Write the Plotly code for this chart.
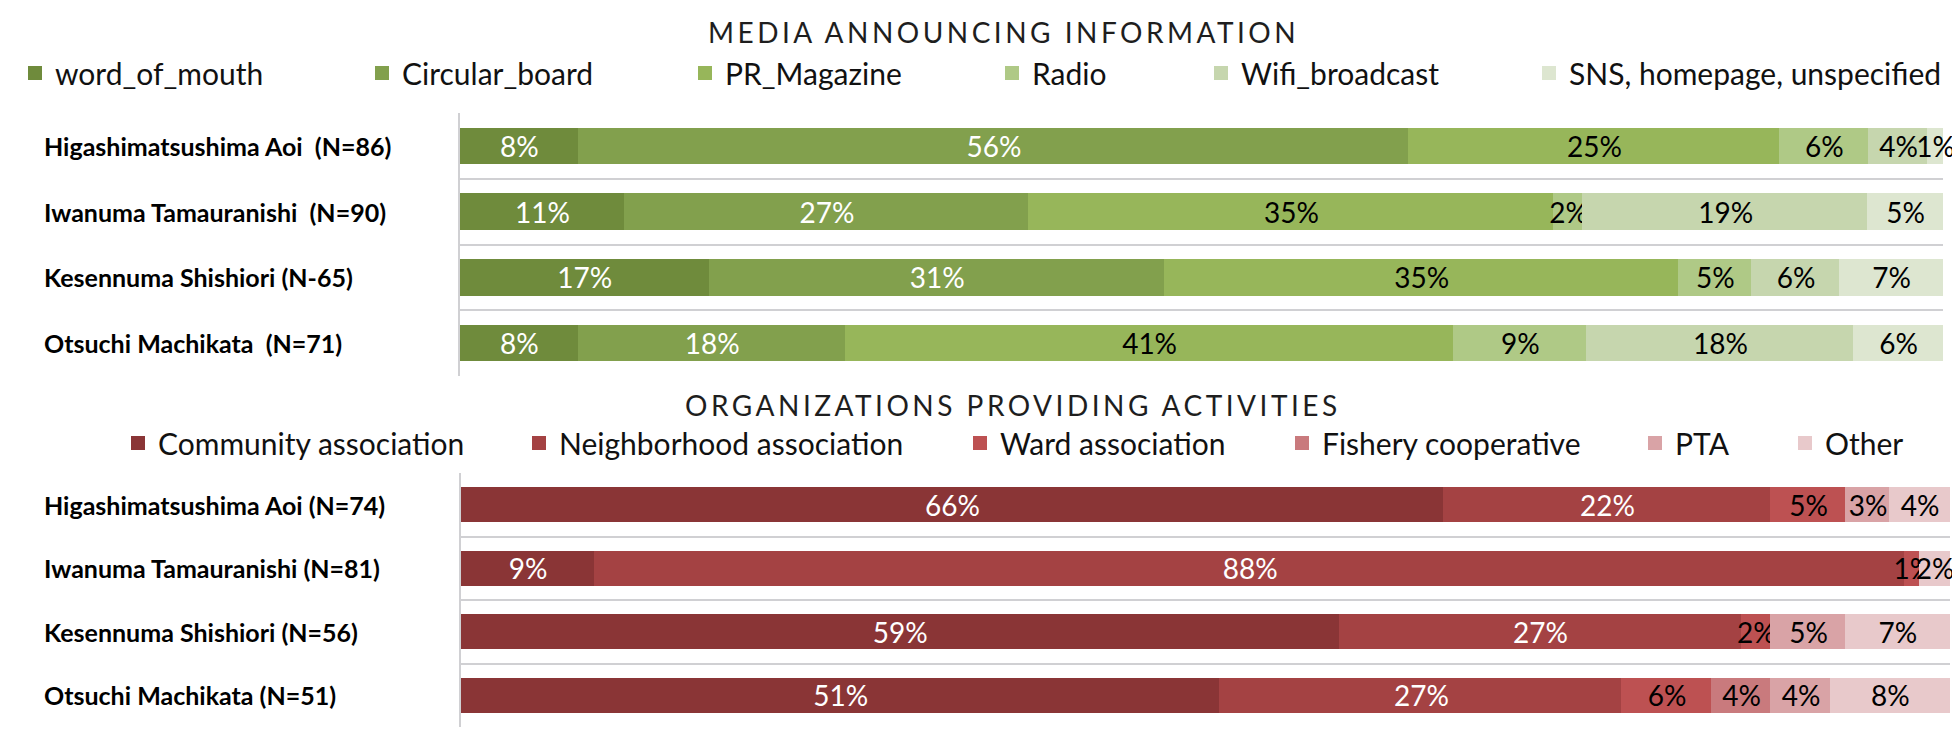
import plotly.graph_objects as go

W, H = 1960, 744

# ---------------- data ----------------
sites_media = ["Higashimatsushima Aoi\u00a0 (N=86)", "Iwanuma Tamauranishi\u00a0 (N=90)",
               "Kesennuma Shishiori (N-65)", "Otsuchi Machikata\u00a0 (N=71)"]
media_names = ["word_of_mouth", "Circular_board", "PR_Magazine", "Radio",
               "Wifi_broadcast", "SNS, homepage, unspecified"]
word_of_mouth = [8, 11, 17, 8]
circular_board = [56, 27, 31, 18]
pr_magazine = [25, 35, 35, 41]
radio = [6, 2, 5, 9]
wifi_broadcast = [4, 19, 6, 18]
sns_homepage = [1, 5, 7, 6]
media_values = [word_of_mouth, circular_board, pr_magazine, radio, wifi_broadcast, sns_homepage]

sites_org = ["Higashimatsushima Aoi (N=74)", "Iwanuma Tamauranishi (N=81)",
             "Kesennuma Shishiori (N=56)", "Otsuchi Machikata (N=51)"]
org_names = ["Community association", "Neighborhood association", "Ward association",
             "Fishery cooperative", "PTA", "Other"]
community = [66, 9, 59, 51]
neighborhood = [22, 88, 27, 27]
ward = [5, 1, 2, 6]
fishery = [0, 0, 0, 4]
pta = [3, 0, 5, 4]
other = [4, 2, 7, 8]
org_values = [community, neighborhood, ward, fishery, pta, other]

# ---------------- style ----------------
FONT = "Lato"
green = ["#6F8B3C", "#82A04D", "#97B65A", "#AFC986", "#C6D6AE", "#DDE6D0"]
red = ["#8A3536", "#A44243", "#BD5152", "#C97A7D", "#D9A3A6", "#E8C9CB"]
label_colors = ["white", "white", "black", "black", "black", "black"]

# legend text start pixels (x) for each entry
media_leg_x = [47, 394, 717, 1024, 1233, 1561]
org_leg_x = [150, 551, 992, 1314, 1667, 1817]
media_leg_y = 65
org_leg_y = 435

fig = go.Figure()
legend_layouts = {}
k = 0


def add_group(names, values, cats, colors, xa, ya, leg_x, leg_y):
    global k
    for i, (nm, vals) in enumerate(zip(names, values)):
        k += 1
        lname = "legend" if k == 1 else f"legend{k}"
        fig.add_trace(go.Bar(
            y=cats, x=vals, orientation="h", name=nm,
            marker=dict(color=colors[i], line=dict(width=2, color=colors[i])),
            text=[f"{v}%" if v else "" for v in vals],
            textposition="inside", insidetextanchor="middle", textangle=0,
            constraintext="none", cliponaxis=False,
            textfont=dict(family=FONT, size=28, color=label_colors[i]),
            xaxis=xa, yaxis=ya, legend=lname, hoverinfo="skip",
        ))
        legend_layouts[lname] = dict(
            orientation="h", x=(leg_x[i] - 40) / W, y=1 - leg_y / H,
            xanchor="left", yanchor="middle", bgcolor="rgba(0,0,0,0)",
            borderwidth=0, font=dict(family=FONT, size=30, color="#111111"),
        )


add_group(media_names, media_values, sites_media, green, "x", "y", media_leg_x, media_leg_y)
add_group(org_names, org_values, sites_org, red, "x2", "y2", org_leg_x, org_leg_y)

grid = "#D0D0D3"
yax_common = dict(type="category", autorange="reversed", tickson="boundaries",
                  showgrid=True, gridcolor=grid, gridwidth=2, showticklabels=False,
                  ticks="", showline=True, linecolor=grid, linewidth=2, zeroline=False,
                  fixedrange=True)
xax_common = dict(range=[0, 100.001], visible=False, fixedrange=True)

title_style = dict(family=FONT, size=28, color="#1E1E1E")
annotations = [
    dict(text='<span style="letter-spacing:3.5px">MEDIA ANNOUNCING INFORMATION</span>',
         x=995 / W, y=1 - 24 / H, xref="paper", yref="paper", showarrow=False,
         xanchor="center", yanchor="middle", font=title_style),
    dict(text='<span style="letter-spacing:3.5px">ORGANIZATIONS PROVIDING ACTIVITIES</span>',
         x=1005 / W, y=1 - 397 / H, xref="paper", yref="paper", showarrow=False,
         xanchor="center", yanchor="middle", font=title_style),
]
label_font = dict(family=FONT, size=25, color="black")
for s in sites_media:
    annotations.append(dict(text=f"<b>{s}</b>", x=34 / W, xref="paper", y=s, yref="y",
                            xanchor="left", yanchor="middle", showarrow=False, font=label_font))
for s in sites_org:
    annotations.append(dict(text=f"<b>{s}</b>", x=34 / W, xref="paper", y=s, yref="y2",
                            xanchor="left", yanchor="middle", showarrow=False, font=label_font))

fig.update_layout(
    width=W, height=H, margin=dict(l=0, r=0, t=0, b=0),
    paper_bgcolor="white", plot_bgcolor="white",
    barmode="stack", barnorm="percent", bargap=0.475,
    xaxis=dict(domain=[452 / W, 1935 / W], anchor="y", **xax_common),
    yaxis=dict(domain=[1 - 368 / H, 1 - 105 / H], anchor="x", **yax_common),
    xaxis2=dict(domain=[453 / W, 1942 / W], anchor="y2", **xax_common),
    yaxis2=dict(domain=[1 - 719 / H, 1 - 465 / H], anchor="x2", **yax_common),
    annotations=annotations,
    showlegend=True,
    **legend_layouts,
)

fig.write_html("out.html")
